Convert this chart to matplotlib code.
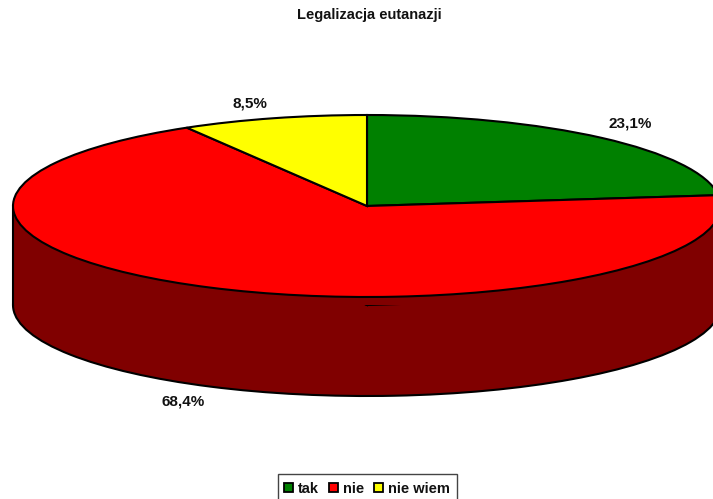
import matplotlib
matplotlib.use("Agg")
import matplotlib.pyplot as plt
from matplotlib.patches import Rectangle, Patch

plt.rcParams['font.family'] = ['Liberation Sans', 'DejaVu Sans']

# data
categories = ['tak', 'nie', 'nie wiem']
values = [23.1, 68.4, 8.5]
value_labels = ['23,1%', '68,4%', '8,5%']
colors = ['#008000', '#FF0000', '#FFFF00']
dark_colors = ['#004000', '#800000', '#808000']

# pie geometry in pixels
W, H = 713, 499
cx, cy = 367, 206
rx, ry = 354, 91
depth = 99 / ry

fig = plt.figure(figsize=(W / 100, H / 100), dpi=100)
ax = fig.add_axes([0, 0, 1, 1])

# side of the cylinder: lower pie + band between both
ax.pie(values, colors=dark_colors, startangle=90, counterclock=False, center=(0, -depth),
       radius=1, wedgeprops={'edgecolor': 'black', 'linewidth': 1.5})
ax.add_patch(Rectangle((-1, -depth), 2, depth, facecolor=dark_colors[1], edgecolor='none', zorder=2))
ax.plot([-1, -1], [-depth, 0], color='black', lw=1.5, zorder=2)
ax.plot([1, 1], [-depth, 0], color='black', lw=1.5, zorder=2)

# top face
wedges, _ = ax.pie(values, colors=colors, startangle=90, counterclock=False, center=(0, 0),
                   radius=1, wedgeprops={'edgecolor': 'black', 'linewidth': 1.5})
for w in wedges:
    w.set_zorder(3)

# circle in data units -> ellipse on screen
ax.set_aspect('auto')
ax.set_xlim(-cx / rx, (W - cx) / rx)
ax.set_ylim(-(H - cy) / ry, cy / ry)

fig.text(369.5 / W, 1 - 15 / H, 'Legalizacja eutanazji', ha='center', va='center',
         fontsize=10.5, fontweight='bold', color='#111111')

# value labels, pixel positions
label_x = [630.5, 183, 250]
label_y = [123, 401, 103]
for s, x, y in zip(value_labels, label_x, label_y):
    fig.text(x / W, 1 - y / H, s, ha='center', va='center', fontsize=11,
             fontweight='bold', color='#111111')

# legend box runs off the bottom of the picture, so it gets its own frame
fig.add_artist(Rectangle((277.5 / W, -5 / H), 180 / W, 30 / H, transform=fig.transFigure,
                         facecolor='white', edgecolor='#444444', linewidth=1.0))
handles = [Patch(facecolor=c, edgecolor='black', linewidth=1.3) for c in colors]
leg = fig.legend(handles, categories, loc='lower center', bbox_to_anchor=(367 / W, -3 / H), ncols=3,
                 prop={'weight': 'bold', 'size': 10.5}, frameon=False,
                 handlelength=0.62, handleheight=0.62,
                 handletextpad=0.3, columnspacing=0.72, borderpad=0.42, borderaxespad=0, labelcolor='#111111')
leg.set_zorder(5)

fig.savefig('out.png', dpi=100)
